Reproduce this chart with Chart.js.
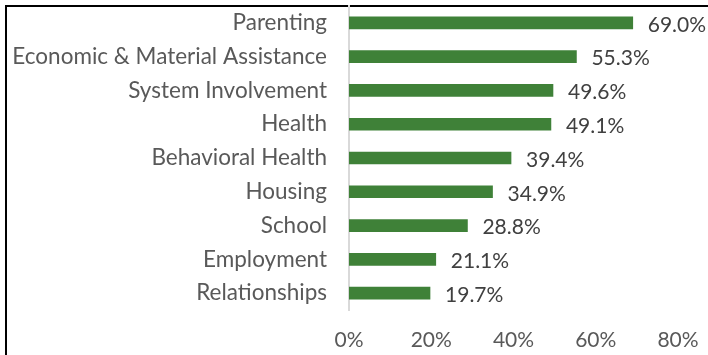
<!DOCTYPE html>
<html>
<head>
<meta charset="utf-8">
<script src="https://cdn.jsdelivr.net/npm/chart.js@4.4.1/dist/chart.umd.min.js"></script>
<style>
  html, body { margin: 0; padding: 0; background: #fff; }
  #wrap { position: relative; width: 708px; height: 355px; overflow: hidden; }
  #frame { position: absolute; left: 5px; top: 5px; width: 800px; height: 400px;
           border-top: 2px solid #000; border-left: 2px solid #000; }
  canvas { position: absolute; left: 0; top: 0; }
</style>
</head>
<body>
<div id="wrap">
  <div id="frame"></div>
  <canvas id="myChart" width="708" height="355"></canvas>
</div>
<script>
var categories = ['Parenting', 'Economic & Material Assistance', 'System Involvement', 'Health',
  'Behavioral Health', 'Housing', 'School', 'Employment', 'Relationships'];
var percents = [69.0, 55.3, 49.6, 49.1, 39.4, 34.9, 28.8, 21.1, 19.7];
var xTicks = [0, 20, 40, 60, 80];

var fontFamily = 'Lato, "Open Sans", sans-serif';

// writes the value to the right of each bar
var valueLabels = {
	id: 'valueLabels',
	afterDatasetsDraw: function(chart){
		var ctx = chart.ctx;
		var meta = chart.getDatasetMeta(0);
		ctx.save();
		ctx.font = '21px ' + fontFamily;
		ctx.fillStyle = '#404040';
		ctx.textAlign = 'left';
		ctx.textBaseline = 'middle';
		for(var i in meta.data){
			var bar = meta.data[i];
			ctx.fillText(percents[i].toFixed(1) + '%', bar.x + 15, bar.y + 2);
		}
		ctx.restore();
	}
};

var ctx = document.getElementById('myChart');

var barGraph = new Chart(ctx, {
	type: 'bar',
	data: {
		labels: categories,
		datasets: [{
			data: percents,
			backgroundColor: '#3f8138',
			borderWidth: 0,
			barThickness: 12
		}]
	},
	options: {
		indexAxis: 'y',
		responsive: false,
		animation: false,
		devicePixelRatio: 1,
		layout: { padding: { top: 6, right: 30, left: 0, bottom: 0 } },
		plugins: { legend: { display: false }, tooltip: { enabled: false } },
		scales: {
			x: {
				min: 0,
				max: 80,
				afterBuildTicks: function(scale){
					scale.ticks = xTicks.map(function(v){ return { value: v }; });
				},
				afterFit: function(scale){
					scale.height = 45;
					scale.paddingLeft = 0;
					scale.paddingRight = 0;
				},
				grid: { display: false, drawTicks: false },
				border: { display: false },
				ticks: {
					padding: 18,
					color: '#595959',
					font: { family: fontFamily, size: 21 },
					callback: function(v){ return v + '%'; }
				}
			},
			y: {
				afterFit: function(scale){
					scale.width = 349;
					scale.paddingTop = 0;
					scale.paddingBottom = 0;
				},
				grid: { display: false, drawTicks: false },
				border: { display: true, color: '#d9d9d9', width: 2 },
				ticks: {
					padding: 22,
					color: '#595959',
					font: { family: fontFamily, size: 22.5 }
				}
			}
		}
	},
	plugins: [valueLabels]
});
</script>
</body>
</html>
